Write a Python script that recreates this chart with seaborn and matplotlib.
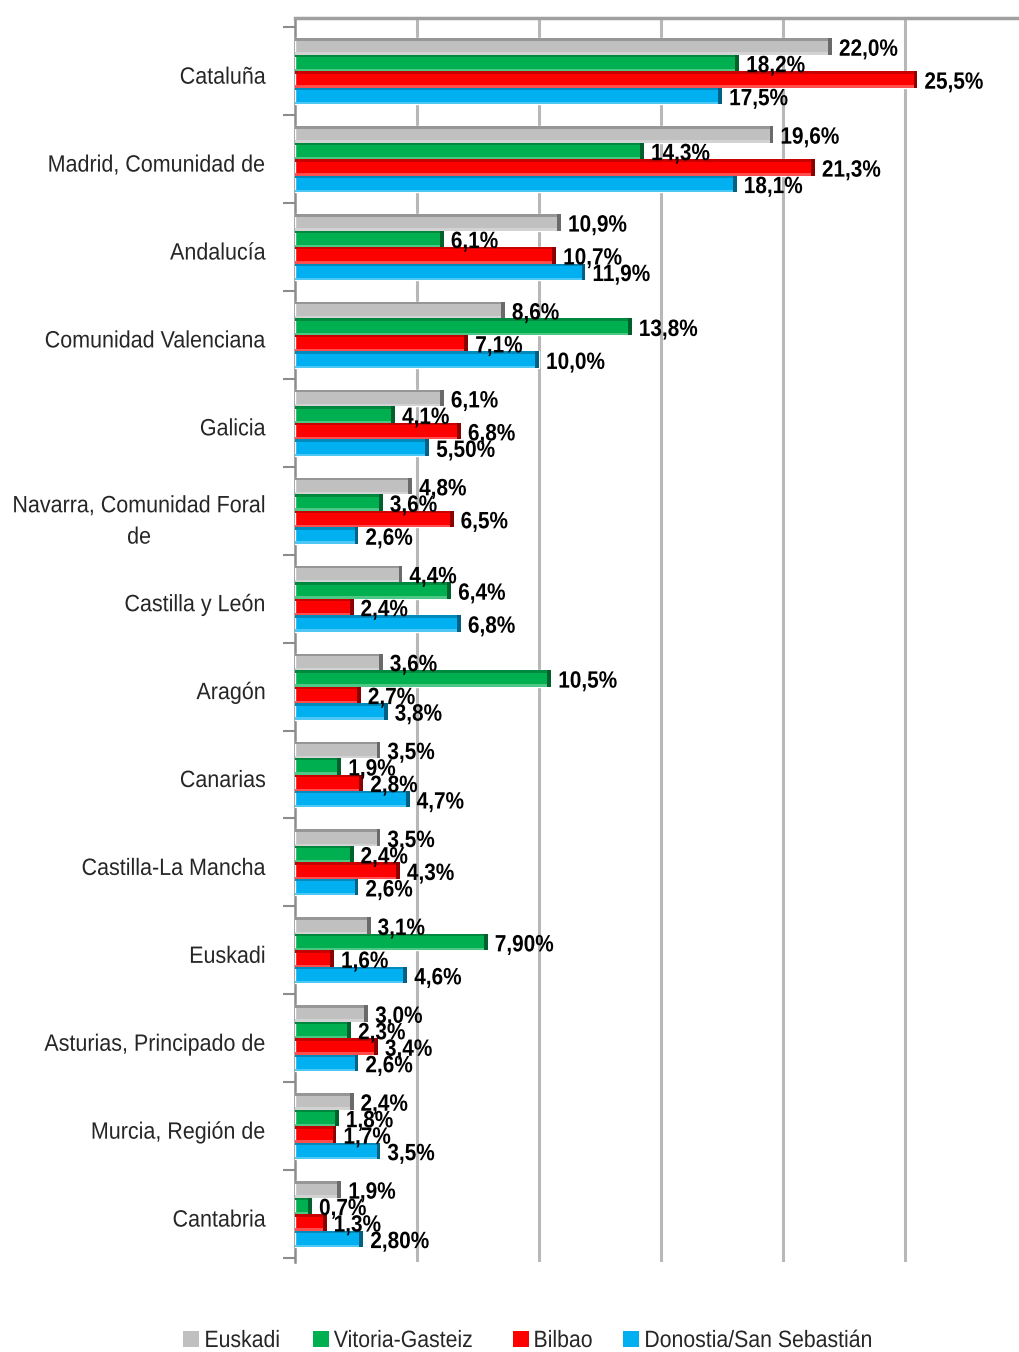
import matplotlib
matplotlib.use("Agg")
import matplotlib.pyplot as plt
from matplotlib.patches import Rectangle
from matplotlib.lines import Line2D
from matplotlib.patheffects import AbstractPathEffect
from matplotlib.transforms import Affine2D, ScaledTranslation
import matplotlib.colors as mcolors
import seaborn as sns
import pandas as pd

regions = [
    "Cataluña", "Madrid, Comunidad de", "Andalucía", "Comunidad Valenciana",
    "Galicia", "Navarra, Comunidad Foral\nde", "Castilla y León", "Aragón",
    "Canarias", "Castilla-La Mancha", "Euskadi", "Asturias, Principado de",
    "Murcia, Región de", "Cantabria",
]
series = ["Euskadi", "Vitoria-Gasteiz", "Bilbao", "Donostia/San Sebastián"]

euskadi = [22.0, 19.6, 10.9, 8.6, 6.1, 4.8, 4.4, 3.6, 3.5, 3.5, 3.1, 3.0, 2.4, 1.9]
vitoria = [18.2, 14.3, 6.1, 13.8, 4.1, 3.6, 6.4, 10.5, 1.9, 2.4, 7.9, 2.3, 1.8, 0.7]
bilbao = [25.5, 21.3, 10.7, 7.1, 6.8, 6.5, 2.4, 2.7, 2.8, 4.3, 1.6, 3.4, 1.7, 1.3]
donostia = [17.5, 18.1, 11.9, 10.0, 5.5, 2.6, 6.8, 3.8, 4.7, 2.6, 4.6, 2.6, 3.5, 2.8]

# values whose label is printed with two decimals
two_decimals = {("Galicia", "Donostia/San Sebastián"),
                ("Euskadi", "Vitoria-Gasteiz"),
                ("Cantabria", "Donostia/San Sebastián")}

colors = ["#c0c0c0", "#00b050", "#ff0000", "#00b0f0"]

df = pd.DataFrame({
    "region": regions * 4,
    "serie": [s for s in series for _ in regions],
    "valor": euskadi + vitoria + bilbao + donostia,
})


class Condense(AbstractPathEffect):
    """Squeeze a text horizontally about its anchored edge (narrow type look)."""

    def __init__(self, sx, text, side="left"):
        super().__init__()
        self.sx, self.text, self.side = sx, text, side

    def draw_path(self, renderer, gc, tpath, affine, rgbFace=None):
        bb = self.text.get_window_extent(renderer)
        x0 = bb.x1 if self.side == "right" else bb.x0
        t = affine + Affine2D().translate(-x0, 0).scale(self.sx, 1).translate(x0, 0)
        renderer.draw_path(gc, tpath, t, rgbFace)


sns.set_theme(style="white")
plt.rcParams["font.family"] = ["Liberation Sans", "DejaVu Sans"]

fig = plt.figure(figsize=(10.2, 13.52), dpi=100)
ax = fig.add_axes([295 / 1020, 1 - 1262 / 1352, 1 - 295 / 1020, (1262 - 18) / 1352])

sns.barplot(data=df, y="region", x="valor", hue="serie", orient="h",
            palette=colors, width=0.75, saturation=1, ax=ax, legend=False,
            zorder=3)

ax.set_xlim(0, 29.7)
ax.set_ylim(13.545, -0.605)
ax.set_xlabel("")
ax.set_ylabel("")
ax.set_xticks([5, 10, 15, 20, 25])
ax.set_xticklabels([])
ax.tick_params(axis="x", length=0)
ax.grid(axis="x", color="#b8b8b8", lw=2.2, zorder=0)
ax.grid(axis="y", visible=False)

ax.set_yticks(range(len(regions)))
ax.set_yticklabels(regions, fontsize=17, linespacing=1.55, ha="right",
                   multialignment="center")
ax.tick_params(axis="y", which="major", length=0, pad=21)
ax.set_yticks([i - 0.5 for i in range(len(regions) + 1)], minor=True)
ax.tick_params(axis="y", which="minor", length=9, width=1.5, color="#8c8c8c", left=True)
shift = ScaledTranslation(0, -4 / 100, fig.dpi_scale_trans)
for lab in ax.get_yticklabels():
    lab.set_transform(lab.get_transform() + shift)
    lab.set_path_effects([Condense(0.91, lab, "right")])

for sp in ["right", "bottom"]:
    ax.spines[sp].set_visible(False)
ax.spines["left"].set_color("#8c8c8c")
ax.spines["left"].set_linewidth(1.8)
ax.spines["top"].set_color("#a0a0a0")
ax.spines["top"].set_linewidth(2.5)

# shaded top edge, light lower edge and dark end cap for a raised look
for cont, col in zip(ax.containers, colors):
    rgb = mcolors.to_rgb(col)
    dark = tuple(c * 0.55 for c in rgb)
    shade = tuple(c * 0.78 for c in rgb)
    light = tuple(min(1, c * 0.7 + 0.3) for c in rgb)
    for p in cont.patches:
        w = p.get_width()
        y0, h = p.get_y(), p.get_height()
        ax.add_patch(Rectangle((0, y0), w, h * 0.15, color=shade, zorder=4, lw=0))
        ax.add_patch(Rectangle((0, y0 + h * 0.86), w, h * 0.14, color=light, zorder=4, lw=0))
        ax.add_patch(Rectangle((w - 0.16, y0), 0.16, h, color=dark, zorder=4, lw=0))

# data labels
for cont, s in zip(ax.containers, series):
    labs = []
    for r, p in zip(regions, cont.patches):
        v = p.get_width()
        txt = f"{v:.2f}%" if (r, s) in two_decimals else f"{v:.1f}%"
        labs.append(txt.replace(".", ","))
    texts = ax.bar_label(cont, labels=labs, padding=5, fontsize=17, fontweight="bold",
                         color="black", zorder=6)
    for t in texts:
        t.xyann = (5, -2)
        t.set_path_effects([Condense(0.88, t, "left")])

handles = [Line2D([0], [0], marker="s", ls="", markersize=11, markerfacecolor=c,
                  markeredgewidth=0) for c in colors]
leg = fig.legend(handles, series, loc="center", bbox_to_anchor=(540 / 1020, 1 - 1341 / 1352),
                 ncol=4, frameon=False, fontsize=17, handletextpad=0.15,
                 columnspacing=0.96, handlelength=0.8)
for t in leg.get_texts():
    t.set_path_effects([Condense(0.9, t, "left")])

fig.savefig("out.png", dpi=100)
